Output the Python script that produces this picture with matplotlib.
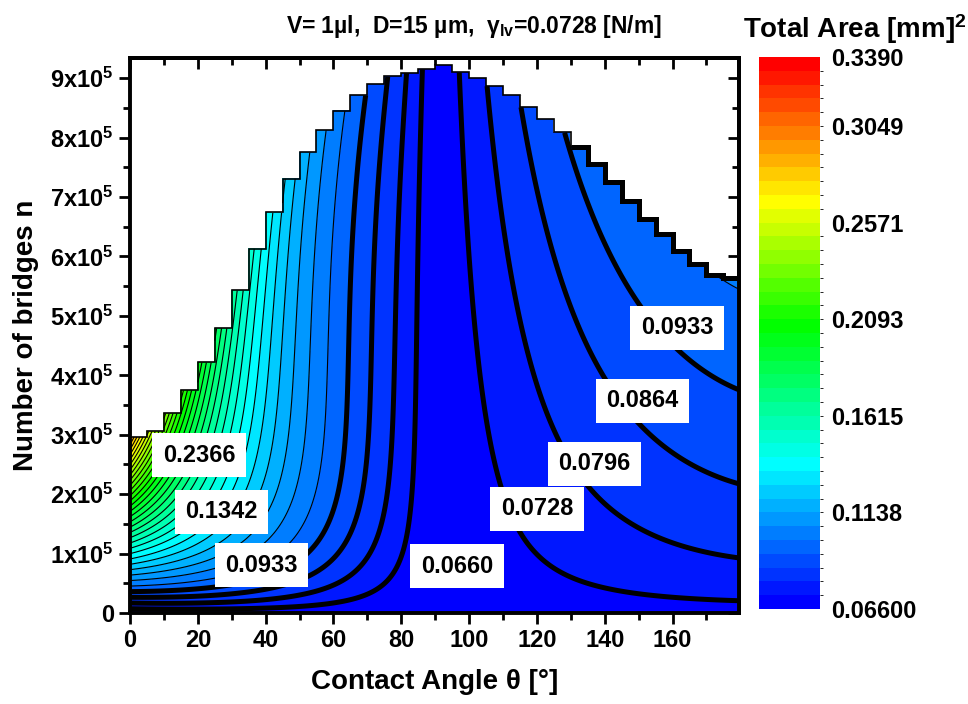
import numpy as np
import matplotlib
matplotlib.use("Agg")
import matplotlib.pyplot as plt
from matplotlib.colors import LinearSegmentedColormap, ListedColormap, BoundaryNorm
from matplotlib.ticker import MultipleLocator, FuncFormatter, NullFormatter

plt.rcParams["font.family"] = ["Liberation Sans", "DejaVu Sans"]
plt.rcParams["font.weight"] = "bold"
plt.rcParams["mathtext.fontset"] = "custom"
plt.rcParams["mathtext.rm"] = "Liberation Sans:bold"
plt.rcParams["mathtext.bf"] = "Liberation Sans:bold"
plt.rcParams["mathtext.it"] = "Liberation Sans:bold"

# colour scale: 40 bands from 0.066 to 0.339
AREA_MIN = 0.066
AREA_MAX = 0.339
N_BANDS = 40
CBAR_TICKS = [0.066, 0.1138, 0.1615, 0.2093, 0.2571, 0.3049, 0.3390]
CBAR_LABELS = ["0.06600", "0.1138", "0.1615", "0.2093", "0.2571", "0.3049", "0.3390"]

# upper limit of the data (n / 1e5) in 5 degree columns, 0..180
THETA_EDGES = np.arange(0, 181, 5)
N_MAX = [2.96, 3.06, 3.36, 3.75, 4.22, 4.79, 5.43, 6.13, 6.74, 7.31, 7.75, 8.13,
         8.45, 8.72, 8.90, 9.03, 9.09, 9.15,
         9.22, 9.10, 9.01, 8.87, 8.71, 8.52, 8.31, 8.09, 7.84, 7.55, 7.25, 6.94,
         6.63, 6.38, 6.10, 5.88, 5.68, 5.63]

# points: (theta, n / 1e5, level index above 0.066)
LEFT_PTS = [
    (85.3, 9.0, 1), (84.0, 5.0, 1), (82.6, 1.9, 1), (79.6, 0.78, 1),
    (70.8, 0.33, 1), (46.2, 0.13, 1), (16.7, 0.05, 1),
    (81.6, 8.9, 2), (77.7, 4.9, 2),
    (77.7, 8.9, 3), (73.3, 4.9, 3),
    (72.8, 8.9, 4), (67.8, 4.9, 4), (52.0, 0.85, 4),
    (1, 0.3, 3), (1, 0.5, 6), (1, 1.0, 10), (1, 1.5, 14), (1, 2.0, 20),
    (1, 2.5, 26), (1, 2.9, 34),
    (7.5, 2.95, 28), (12.5, 3.25, 24), (17.5, 3.65, 21), (22.5, 4.1, 18),
    (27.5, 4.65, 15), (32.5, 5.3, 12.5), (37.5, 6.0, 10.5), (42.5, 6.6, 9),
    (47.5, 7.2, 8), (52.5, 7.65, 7), (57.5, 8.0, 6), (62.5, 8.35, 5.2),
    (35.0, 3.6, 10), (10.0, 2.0, 19), (25.0, 1.8, 10), (8.0, 2.6, 25),
]
RIGHT_PTS = [
    (96.8, 9.24, 1), (100.8, 5.26, 1), (101.8, 4.76, 1), (109.1, 2.18, 1),
    (119.0, 1.0, 1), (144.5, 0.39, 1), (178.3, 0.2, 1),
    (105.7, 8.87, 2), (114.0, 5.26, 2), (117.0, 4.76, 2), (128.8, 2.85, 2),
    (134.7, 2.15, 2), (178.5, 0.975, 2),
    (115.5, 8.54, 3), (128.8, 5.26, 3), (132.7, 4.76, 3), (139.6, 3.92, 3),
    (146.5, 3.2, 3), (178.5, 2.2, 3),
    (128.8, 8.06, 4), (148.5, 5.15, 4), (158.3, 4.42, 4), (178.5, 3.94, 4),
]

# contour labels: text, theta, n / 1e5
LABELS = [("0.2366", 20.4, 2.655), ("0.1342", 27.0, 1.70), ("0.0933", 38.8, 0.807),
          ("0.0660", 96.5, 0.79), ("0.0728", 120.1, 1.756), ("0.0796", 137.0, 2.51),
          ("0.0864", 151.1, 3.57), ("0.0933", 161.3, 4.80)]

step = (AREA_MAX - AREA_MIN) / N_BANDS
levels = AREA_MIN + step * np.arange(N_BANDS + 1)


def basis(tn, s, rich):
    cols = [np.ones_like(s), tn, tn**2, s, s**2, tn * s]
    if rich:
        cols += [s**3, tn * s**2, tn**2 * s]
    return np.stack(cols, axis=-1)


def side_field(pts, sign, theta, s, rich):
    # smooth least-squares surface through the read points, one side of 90 deg
    th, nn, kk = np.asarray(pts, float).T
    sp = np.sqrt(nn)
    u = sign * np.cos(np.radians(th))
    tn = sign * (90 - th) / 90
    r = kk * step / AREA_MIN
    coef, *_ = np.linalg.lstsq(basis(tn, sp, rich), np.log(r / (u * sp)), rcond=None)
    ug = np.clip(sign * np.cos(np.radians(theta)), 0, None)
    tg = np.clip(sign * (90 - theta) / 90, 0, None)
    return ug * s * np.exp(basis(tg, s, rich) @ coef)


theta = np.linspace(0, 180, 721)
nvals = np.linspace(0, 9.4, 900)
T, NN = np.meshgrid(theta, nvals)
S = np.sqrt(NN)
Z = AREA_MIN * (1 + side_field(LEFT_PTS, 1, T, S, True)
                + side_field(RIGHT_PTS, -1, T, S, False))
Z = np.clip(Z, AREA_MIN, AREA_MAX)
col = np.clip((T // 5).astype(int), 0, len(N_MAX) - 1)
Z = np.ma.masked_where(NN > np.array(N_MAX)[col], Z)

base = LinearSegmentedColormap.from_list(
    "origin", [(0, "#0000ff"), (10 / 39, "#00ffff"), (20 / 39, "#00ff00"),
               (29 / 39, "#ffff00"), (1, "#ff0000")])
cmap = ListedColormap(base(np.arange(N_BANDS) / (N_BANDS - 1)))
norm = BoundaryNorm(levels, N_BANDS)

fig = plt.figure(figsize=(9.68, 7.04), dpi=100)
ax = fig.add_axes([0.1343, 0.1293, 0.6291, 0.7883])

cf = ax.contourf(T, NN * 1e5, Z, levels=levels, cmap=cmap, norm=norm)
ax.contour(T, NN * 1e5, Z, levels=levels[5:-1], colors="k", linewidths=0.8)
ax.contour(T, NN * 1e5, Z, levels=levels[1:5], colors="k", linewidths=3.6)

ax.stairs(np.array(N_MAX) * 1e5, THETA_EDGES, color="k", lw=1.2, baseline=None)
ax.stairs(np.array(N_MAX[26:]) * 1e5, THETA_EDGES[26:], color="k", lw=3.6, baseline=None)

for txt, th, nn in LABELS:
    ax.text(th, nn * 1e5, txt, ha="center", va="center", fontsize=17, fontweight="bold",
            bbox=dict(facecolor="white", edgecolor="none", boxstyle="square,pad=0.45"))

ax.set_xlim(0, 179.6)
ax.set_ylim(0, 9.34e5)
ax.xaxis.set_major_locator(MultipleLocator(20))
ax.xaxis.set_minor_locator(MultipleLocator(10))
ax.yaxis.set_major_locator(MultipleLocator(1e5))
ax.yaxis.set_minor_locator(MultipleLocator(0.5e5))
ax.yaxis.set_major_formatter(FuncFormatter(
    lambda v, p: "0" if abs(v) < 1 else f"{int(round(v / 1e5))}x10$^5$"))
ax.tick_params(which="both", direction="out", width=2, labelsize=17)
ax.tick_params(which="major", length=8)
ax.tick_params(which="minor", length=5)
for sp in ax.spines.values():
    sp.set_linewidth(2.8)
for lab in ax.get_xticklabels() + ax.get_yticklabels():
    lab.set_fontweight("bold")

# inward ticks on the top and right frame
top = ax.secondary_xaxis("top")
top.xaxis.set_major_locator(MultipleLocator(20))
top.xaxis.set_minor_locator(MultipleLocator(10))
top.xaxis.set_major_formatter(NullFormatter())
right = ax.secondary_yaxis("right")
right.yaxis.set_major_locator(MultipleLocator(1e5))
right.yaxis.set_minor_locator(MultipleLocator(0.5e5))
right.yaxis.set_major_formatter(NullFormatter())
for sec in (top, right):
    sec.tick_params(which="both", direction="in", width=2)
    sec.tick_params(which="major", length=8)
    sec.tick_params(which="minor", length=5)
    for sp in sec.spines.values():
        sp.set_linewidth(2.8)

ax.set_xlabel("Contact Angle θ [°]", fontsize=20, fontweight="bold", labelpad=12)
ax.set_ylabel("Number of bridges n", fontsize=20, fontweight="bold", labelpad=8)
fig.text(0.49, 0.962, "V= 1µl,  D=15 µm,  γ$_{lv}$=0.0728 [N/m]", ha="center",
         va="center", fontsize=16.5, fontweight="bold")

cax = fig.add_axes([0.784, 0.135, 0.063, 0.784])
cb = fig.colorbar(cf, cax=cax, ticks=CBAR_TICKS)
cb.ax.set_yticklabels(CBAR_LABELS)
cb.ax.tick_params(length=0, pad=8, labelsize=17)
cb.outline.set_visible(False)
for lab in cb.ax.get_yticklabels():
    lab.set_fontweight("bold")
fig.text(0.883, 0.958, "Total Area [mm]$^2$", ha="center", va="center",
         fontsize=20, fontweight="bold")

fig.savefig("out.png", dpi=100)
